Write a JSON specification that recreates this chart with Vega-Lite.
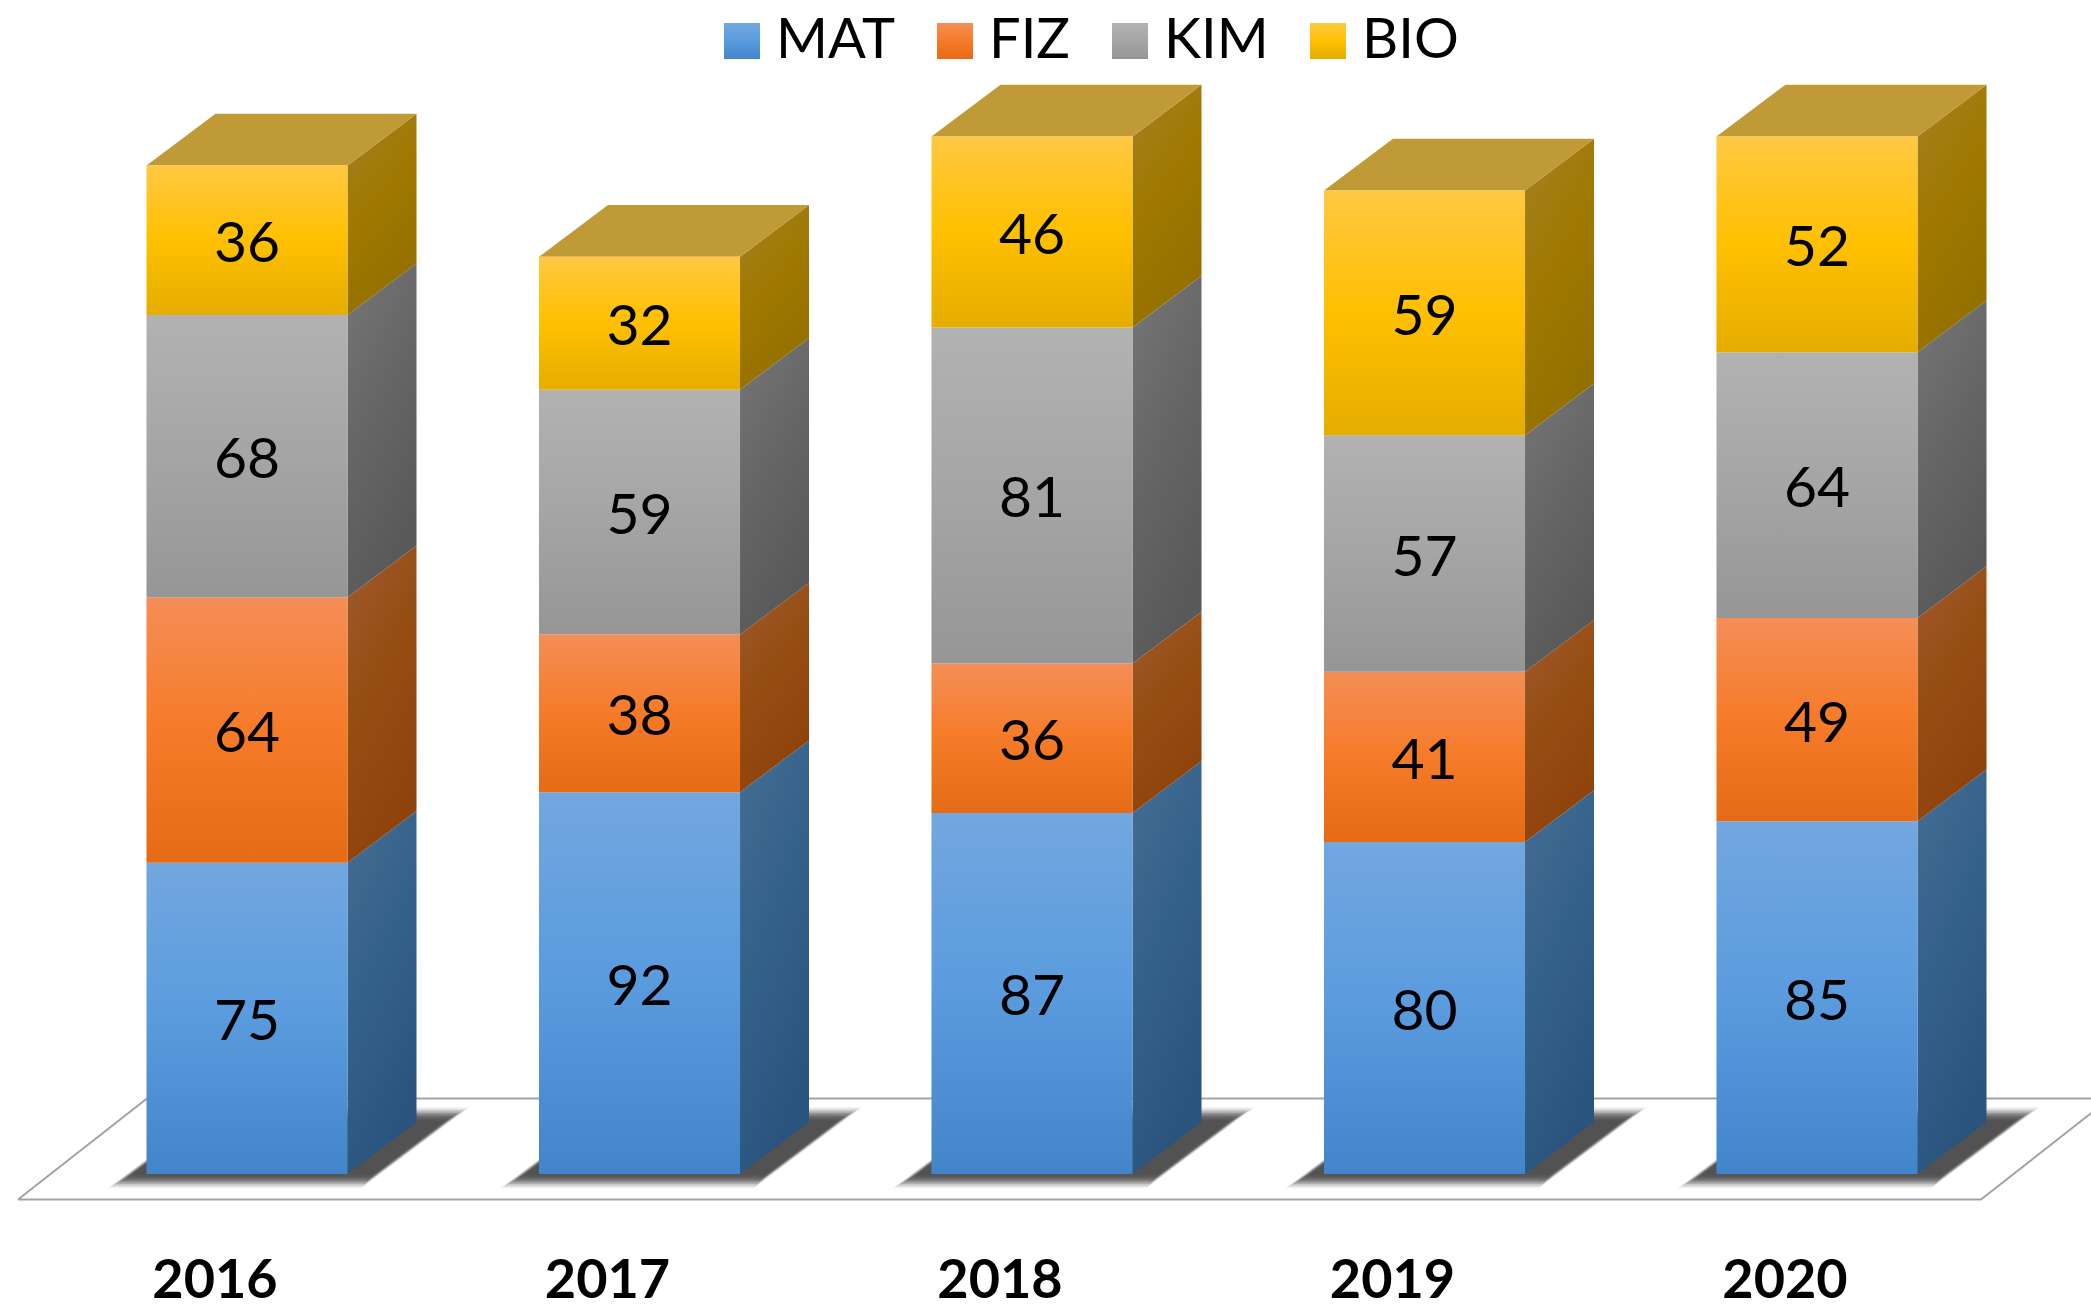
{
"$schema":"https://vega.github.io/schema/vega-lite/v6.json",
"width":2091,"height":1309,"padding":0,
"autosize":{"type":"fit","contains":"padding"},
"background":"white",
"config":{"view":{"stroke":null}},
"datasets":{
"scores":[
{"year":2016,"subject":"MAT","ord":1,"value":75},{"year":2016,"subject":"FIZ","ord":2,"value":64},{"year":2016,"subject":"KIM","ord":3,"value":68},{"year":2016,"subject":"BIO","ord":4,"value":36},
{"year":2017,"subject":"MAT","ord":1,"value":92},{"year":2017,"subject":"FIZ","ord":2,"value":38},{"year":2017,"subject":"KIM","ord":3,"value":59},{"year":2017,"subject":"BIO","ord":4,"value":32},
{"year":2018,"subject":"MAT","ord":1,"value":87},{"year":2018,"subject":"FIZ","ord":2,"value":36},{"year":2018,"subject":"KIM","ord":3,"value":81},{"year":2018,"subject":"BIO","ord":4,"value":46},
{"year":2019,"subject":"MAT","ord":1,"value":80},{"year":2019,"subject":"FIZ","ord":2,"value":41},{"year":2019,"subject":"KIM","ord":3,"value":57},{"year":2019,"subject":"BIO","ord":4,"value":59},
{"year":2020,"subject":"MAT","ord":1,"value":85},{"year":2020,"subject":"FIZ","ord":2,"value":49},{"year":2020,"subject":"KIM","ord":3,"value":64},{"year":2020,"subject":"BIO","ord":4,"value":52}
],
"floor":[
{"k":1,"fx":2015.4166,"fy":-6.14},{"k":2,"fx":2020.4177,"fy":-6.14},{"k":3,"fx":2020.746,"fy":18.19},{"k":4,"fx":2015.7452,"fy":18.19},{"k":5,"fx":2015.4166,"fy":-6.14}
]
},
"data":{"name":"scores"},
"transform":[
{"stack":"value","groupby":["year"],"sort":[{"field":"ord","order":"ascending"}],"as":["y0","y1"]},
{"calculate":"datum.year-0.2561","as":"xl"},
{"calculate":"datum.year+0.2561","as":"xr"}
],
"layer":[
{
"data":{"name":"floor"},
"mark":{"type":"line","stroke":"#a3a3a3","strokeWidth":2,"clip":true,"interpolate":"linear"},
"encoding":{
"x":{"field":"fx","type":"quantitative","scale":{"domain":[2015.3707,2020.6981],"nice":false,"zero":false},"axis":null},
"y":{"field":"fy","type":"quantitative","scale":{"domain":[-32.53,282.89],"nice":false,"zero":false},"axis":null},
"order":{"field":"k","type":"ordinal"}
}
},
{
"transform":[{"filter":"datum.subject==='MAT'"}],
"encoding":{
"x":{"field":"sxl","type":"quantitative","stack":null,"axis":null,"scale":{"domain":[2015.3707,2020.6981],"nice":false,"zero":false}},
"x2":{"field":"sxr"},
"y":{"field":"sy","type":"quantitative","axis":null,"scale":{"domain":[-32.53,282.89],"nice":false,"zero":false}},
"detail":{"field":"year","type":"nominal"}
},
"layer":[
{"transform":[{"calculate":"[-14.5,67]","as":"py"},{"flatten":["py"]},{"calculate":"datum.py/4.15","as":"sy"},{"calculate":"datum.year+(-130.5+1.335*(datum.py+7.5))/392.5","as":"sxl"},{"calculate":"datum.year+(123.5+1.335*(datum.py+7.5))/392.5","as":"sxr"}],"mark":{"type":"area","orient":"horizontal","color":"#383838","opacity":0.06}},
{"transform":[{"calculate":"[-13,65.5]","as":"py"},{"flatten":["py"]},{"calculate":"datum.py/4.15","as":"sy"},{"calculate":"datum.year+(-129.75+1.335*(datum.py+7.5))/392.5","as":"sxl"},{"calculate":"datum.year+(122.75+1.335*(datum.py+7.5))/392.5","as":"sxr"}],"mark":{"type":"area","orient":"horizontal","color":"#383838","opacity":0.1}},
{"transform":[{"calculate":"[-11.5,64]","as":"py"},{"flatten":["py"]},{"calculate":"datum.py/4.15","as":"sy"},{"calculate":"datum.year+(-129+1.335*(datum.py+7.5))/392.5","as":"sxl"},{"calculate":"datum.year+(122+1.335*(datum.py+7.5))/392.5","as":"sxr"}],"mark":{"type":"area","orient":"horizontal","color":"#383838","opacity":0.14}},
{"transform":[{"calculate":"[-10,62.5]","as":"py"},{"flatten":["py"]},{"calculate":"datum.py/4.15","as":"sy"},{"calculate":"datum.year+(-128.25+1.335*(datum.py+7.5))/392.5","as":"sxl"},{"calculate":"datum.year+(121.25+1.335*(datum.py+7.5))/392.5","as":"sxr"}],"mark":{"type":"area","orient":"horizontal","color":"#383838","opacity":0.18}},
{"transform":[{"calculate":"[-8.5,61]","as":"py"},{"flatten":["py"]},{"calculate":"datum.py/4.15","as":"sy"},{"calculate":"datum.year+(-127.5+1.335*(datum.py+7.5))/392.5","as":"sxl"},{"calculate":"datum.year+(120.5+1.335*(datum.py+7.5))/392.5","as":"sxr"}],"mark":{"type":"area","orient":"horizontal","color":"#383838","opacity":0.22}},
{"transform":[{"calculate":"[-7,59.5]","as":"py"},{"flatten":["py"]},{"calculate":"datum.py/4.15","as":"sy"},{"calculate":"datum.year+(-126.75+1.335*(datum.py+7.5))/392.5","as":"sxl"},{"calculate":"datum.year+(119.75+1.335*(datum.py+7.5))/392.5","as":"sxr"}],"mark":{"type":"area","orient":"horizontal","color":"#383838","opacity":0.25}},
{"transform":[{"calculate":"[-5.5,58]","as":"py"},{"flatten":["py"]},{"calculate":"datum.py/4.15","as":"sy"},{"calculate":"datum.year+(-126+1.335*(datum.py+7.5))/392.5","as":"sxl"},{"calculate":"datum.year+(119+1.335*(datum.py+7.5))/392.5","as":"sxr"}],"mark":{"type":"area","orient":"horizontal","color":"#383838","opacity":0.25}},
{"transform":[{"calculate":"[-4,56.5]","as":"py"},{"flatten":["py"]},{"calculate":"datum.py/4.15","as":"sy"},{"calculate":"datum.year+(-125.25+1.335*(datum.py+7.5))/392.5","as":"sxl"},{"calculate":"datum.year+(118.25+1.335*(datum.py+7.5))/392.5","as":"sxr"}],"mark":{"type":"area","orient":"horizontal","color":"#383838","opacity":0.22}},
{"transform":[{"calculate":"[-2.5,55]","as":"py"},{"flatten":["py"]},{"calculate":"datum.py/4.15","as":"sy"},{"calculate":"datum.year+(-124.5+1.335*(datum.py+7.5))/392.5","as":"sxl"},{"calculate":"datum.year+(117.5+1.335*(datum.py+7.5))/392.5","as":"sxr"}],"mark":{"type":"area","orient":"horizontal","color":"#383838","opacity":0.18}},
{"transform":[{"calculate":"[-1,53.5]","as":"py"},{"flatten":["py"]},{"calculate":"datum.py/4.15","as":"sy"},{"calculate":"datum.year+(-123.75+1.335*(datum.py+7.5))/392.5","as":"sxl"},{"calculate":"datum.year+(116.75+1.335*(datum.py+7.5))/392.5","as":"sxr"}],"mark":{"type":"area","orient":"horizontal","color":"#383838","opacity":0.14}}
]
},
{
"transform":[
{"calculate":"[0,1]","as":"t"},{"flatten":["t"]},
{"calculate":"datum.xr+datum.t*0.1758","as":"ax"},
{"calculate":"datum.y0+datum.t*12.47","as":"ay"},
{"calculate":"datum.y1+datum.t*12.47","as":"ay2"}
],
"mark":{"type":"area","orient":"vertical"},
"encoding":{
"x":{"field":"ax","type":"quantitative","axis":null,"scale":{"domain":[2015.3707,2020.6981],"nice":false,"zero":false}},
"y":{"field":"ay","type":"quantitative","stack":null,"axis":null,"scale":{"domain":[-32.53,282.89],"nice":false,"zero":false}},
"y2":{"field":"ay2"},
"detail":{"field":"year","type":"nominal"},
"color":{"field":"subject","type":"nominal","legend":null,"scale":{"domain":["MAT","FIZ","KIM","BIO"],"range":[
{"signal":"{gradient:'linear',x1:0,y1:0,x2:0.4,y2:1,stops:[{offset:0,color:'#446d94'},{offset:0.5,color:'#34618a'},{offset:1,color:'#2a547e'}]}"},
{"signal":"{gradient:'linear',x1:0,y1:0,x2:0.4,y2:1,stops:[{offset:0,color:'#a05a30'},{offset:0.5,color:'#964d12'},{offset:1,color:'#8f430c'}]}"},
{"signal":"{gradient:'linear',x1:0,y1:0,x2:0.4,y2:1,stops:[{offset:0,color:'#767676'},{offset:0.5,color:'#666666'},{offset:1,color:'#595959'}]}"},
{"signal":"{gradient:'linear',x1:0,y1:0,x2:0.4,y2:1,stops:[{offset:0,color:'#a68026'},{offset:0.5,color:'#9f7900'},{offset:1,color:'#947000'}]}"}
]}}
}
},
{
"transform":[
{"filter":"datum.subject==='BIO'"},
{"calculate":"[0,1]","as":"t"},{"flatten":["t"]},
{"calculate":"datum.xl+datum.t*0.1758","as":"tx"},
{"calculate":"datum.xr+datum.t*0.1758","as":"tx2"},
{"calculate":"datum.y1+datum.t*12.47","as":"ty"}
],
"mark":{"type":"area","orient":"horizontal","color":"#c09a37"},
"encoding":{
"x":{"field":"tx","type":"quantitative","stack":null,"axis":null,"scale":{"domain":[2015.3707,2020.6981],"nice":false,"zero":false}},
"x2":{"field":"tx2"},
"y":{"field":"ty","type":"quantitative","axis":null,"scale":{"domain":[-32.53,282.89],"nice":false,"zero":false}},
"detail":{"field":"year","type":"nominal"}
}
},
{
"mark":{"type":"rect"},
"encoding":{
"x":{"field":"xl","type":"quantitative","axis":null,"scale":{"domain":[2015.3707,2020.6981],"nice":false,"zero":false}},
"x2":{"field":"xr"},
"y":{"field":"y0","type":"quantitative","axis":null,"scale":{"domain":[-32.53,282.89],"nice":false,"zero":false}},
"y2":{"field":"y1"},
"color":{"field":"subject","type":"nominal","scale":{"domain":["MAT","FIZ","KIM","BIO"],"range":[
{"signal":"{gradient:'linear',x1:0,y1:0,x2:0,y2:1,stops:[{offset:0,color:'#72a7df'},{offset:0.5,color:'#5a9bde'},{offset:1,color:'#4385c9'}]}"},
{"signal":"{gradient:'linear',x1:0,y1:0,x2:0,y2:1,stops:[{offset:0,color:'#f48e57'},{offset:0.5,color:'#f67b28'},{offset:1,color:'#e56b17'}]}"},
{"signal":"{gradient:'linear',x1:0,y1:0,x2:0,y2:1,stops:[{offset:0,color:'#b2b2b2'},{offset:0.5,color:'#a5a5a5'},{offset:1,color:'#969696'}]}"},
{"signal":"{gradient:'linear',x1:0,y1:0,x2:0,y2:1,stops:[{offset:0,color:'#ffc843'},{offset:0.5,color:'#ffc000'},{offset:1,color:'#e5ad00'}]}"}
]},
"legend":{"title":null,"orient":"none","legendX":714,"legendY":13,"direction":"horizontal","columns":4,"symbolType":"square","symbolSize":1296,"symbolStrokeWidth":0,"symbolOpacity":1,"labelFont":"Lato","labelFontSize":56,"labelColor":"#000000","labelOffset":6,"columnPadding":31,"padding":0,"symbolOffset":0}}
}
},
{
"transform":[{"calculate":"(datum.y0+datum.y1)/2","as":"ym"}],
"mark":{"type":"text","font":"Lato","fontSize":57,"color":"#000000","baseline":"middle","align":"center","dy":5},
"encoding":{
"x":{"field":"year","type":"quantitative","axis":null,"scale":{"domain":[2015.3707,2020.6981],"nice":false,"zero":false}},
"y":{"field":"ym","type":"quantitative","axis":null,"scale":{"domain":[-32.53,282.89],"nice":false,"zero":false}},
"text":{"field":"value","type":"quantitative"}
}
},
{
"transform":[{"filter":"datum.subject==='MAT'"},{"calculate":"-26","as":"labelY"}],
"mark":{"type":"text","font":"Lato","fontWeight":"bold","fontSize":54,"color":"#000000","baseline":"middle","align":"center","dx":-32},
"encoding":{
"x":{"field":"year","type":"quantitative","axis":null,"scale":{"domain":[2015.3707,2020.6981],"nice":false,"zero":false}},
"y":{"field":"labelY","type":"quantitative","axis":null,"scale":{"domain":[-32.53,282.89],"nice":false,"zero":false}},
"text":{"field":"year","type":"quantitative","format":"d"}
}
}
],
"resolve":{"scale":{"color":"independent"}}
}
